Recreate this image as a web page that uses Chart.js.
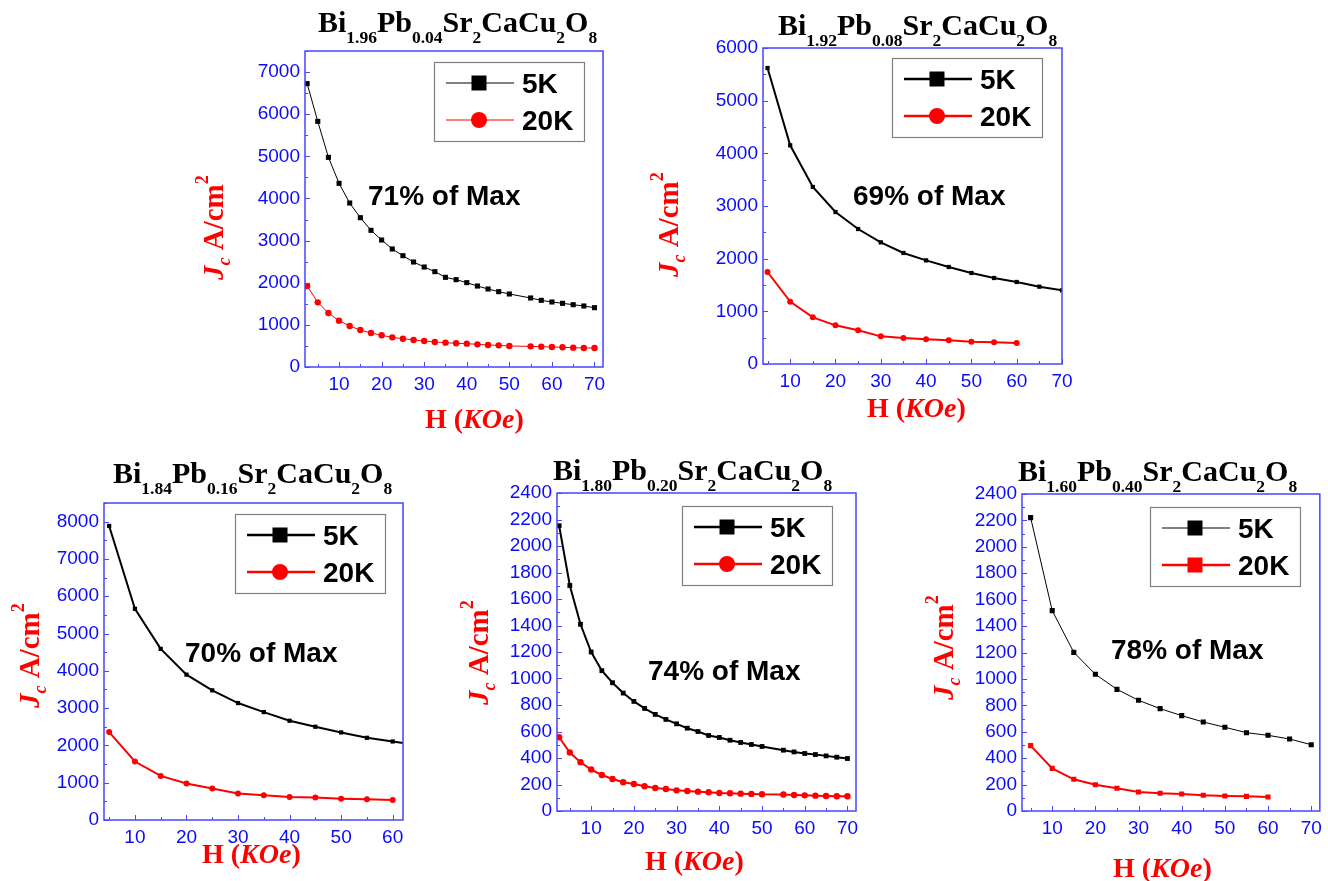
<!DOCTYPE html><html lang="en"><meta charset="utf-8">
<title>Jc vs H for Bi(2-x)Pb(x)Sr2CaCu2O8</title>
<script src="https://cdn.jsdelivr.net/npm/chart.js@4.4.1"></script>
<style>
body{margin:0;background:#fff;width:1328px;height:881px;overflow:hidden;position:relative}
canvas{position:absolute}
</style>
<body>
<canvas id="c1"></canvas>
<canvas id="c2"></canvas>
<canvas id="c3"></canvas>
<canvas id="c4"></canvas>
<canvas id="c5"></canvas>

<script>
// ---- data (H in KOe, Jc in A/cm^2) ----
const H_FINE  = [2.5,5,7.5,10,12.5,15,17.5,20,22.5,25,27.5,30,32.5,35,37.5,40,42.5,45,47.5,50,55,57.5,60,62.5,65,67.5,70];
const H_TO_70 = [5,10,15,20,25,30,35,40,45,50,55,60,65,70];
const H_TO_65 = [5,10,15,20,25,30,35,40,45,50,55,60,65];
const H_TO_60 = [5,10,15,20,25,30,35,40,45,50,55,60];

// Bi1.96Pb0.04
const jc004_5K  = [6725,5830,4976,4359,3892,3544,3244,3014,2801,2642,2492,2373,2263,2128,2073,2002,1922,1851,1788,1733,1638,1582,1543,1511,1479,1448,1408];
const jc004_20K = [1922,1535,1282,1100,973,878,807,752,704,672,641,617,593,578,562,554,538,522,514,498,490,483,475,467,459,451,451];
// Bi1.92Pb0.08
const jc008_5K  = [5620,4152,3361,2886,2563,2310,2108,1968,1842,1728,1633,1557,1468,1399];
const jc008_20K = [1747,1184,886,734,639,525,494,468,449,424,411,399];
// Bi1.84Pb0.16
const jc016_5K  = [7885,5663,4588,3898,3477,3136,2894,2661,2500,2348,2204,2106,2000];
const jc016_20K = [2357,1568,1183,977,842,708,663,618,600,573,556,538];
// Bi1.80Pb0.20
const jc020_5K  = [2153,1702,1409,1200,1059,968,890,827,774,729,691,658,625,600,570,555,534,517,502,487,459,446,434,426,416,406,396];
const jc020_20K = [557,441,368,313,272,242,217,204,187,174,166,156,151,146,141,136,134,131,129,126,124,121,118,116,113,111,111];
// Bi1.60Pb0.40
const jc040_5K  = [2221,1517,1201,1035,921,838,775,722,674,634,593,573,545,502];
const jc040_20K = [495,323,240,199,172,144,134,129,119,114,111,106];

const BI  = ['1.96','1.92','1.84','1.80','1.60'];
const PB  = ['0.04','0.08','0.16','0.20','0.40'];
const PCT = ['71% of Max','69% of Max','70% of Max','74% of Max','78% of Max'];

const X_TICKS_70 = [10,20,30,40,50,60,70];
const X_TICKS_60 = [10,20,30,40,50,60];
const Y_TICKS_7000 = [0,1000,2000,3000,4000,5000,6000,7000];
const Y_TICKS_6000 = [0,1000,2000,3000,4000,5000,6000];
const Y_TICKS_8000 = [0,1000,2000,3000,4000,5000,6000,7000,8000];
const Y_TICKS_2400 = [0,200,400,600,800,1000,1200,1400,1600,1800,2000,2200,2400];

// ---- look ----
const SERIF = '"Liberation Serif","Times New Roman",serif';
const SANS  = '"Liberation Sans",Arial,sans-serif';
const BLUE  = '#0a0aff';
const FRAME = '#4646ff';
const RED   = '#ff0000';

/* panel layout: canvas rect, plot box (page px), text anchors (page px) */
const panels = [
  {id:'c1', cx:180, cy:0, cw:460, ch:440, box:{l:305,t:51,r:603,b:367},
   xMin:2, xMax:72, yMax:7500, xTicks:X_TICKS_70, yTicks:Y_TICKS_7000, yMinor:500,
   title:[318,32], ylab:[223,280], xlab:[425,428], note:[368,205], leg:[434,62],
   series:[{label:'5K', h:H_FINE, jc:jc004_5K, color:'#000', lw:1, marker:'rect', r:3.6, legLw:1},
           {label:'20K', h:H_FINE, jc:jc004_20K, color:RED, lw:1, marker:'circle', r:3.2, legLw:1}]},
  {id:'c2', cx:630, cy:0, cw:460, ch:440, box:{l:763,t:48,r:1062,b:364},
   xMin:4, xMax:70, yMax:6000, xTicks:X_TICKS_70, yTicks:Y_TICKS_6000, yMinor:500,
   title:[778,35], ylab:[678,277], xlab:[867,417], note:[853,205], leg:[892,58],
   series:[{label:'5K', h:H_TO_70, jc:jc008_5K, color:'#000', lw:2, marker:'rect', r:3, legLw:2.5},
           {label:'20K', h:H_TO_60, jc:jc008_20K, color:RED, lw:2, marker:'circle', r:3, legLw:2.5}]},
  {id:'c3', cx:0, cy:440, cw:440, ch:441, box:{l:104,t:503,r:403,b:820},
   xMin:4, xMax:62, yMax:8500, xTicks:X_TICKS_60, yTicks:Y_TICKS_8000, yMinor:500,
   title:[113,483], ylab:[39,708], xlab:[202,863], note:[185,662], leg:[235,514],
   series:[{label:'5K', h:H_TO_65, jc:jc016_5K, color:'#000', lw:2, marker:'rect', r:3, legLw:2.5},
           {label:'20K', h:H_TO_60, jc:jc016_20K, color:RED, lw:2, marker:'circle', r:3, legLw:2.5}]},
  {id:'c4', cx:440, cy:440, cw:440, ch:441, box:{l:557,t:493,r:856,b:811},
   xMin:2, xMax:72, yMax:2400, xTicks:X_TICKS_70, yTicks:Y_TICKS_2400, yMinor:100,
   title:[553,480], ylab:[488,705], xlab:[645,870], note:[648,680], leg:[682,506],
   series:[{label:'5K', h:H_FINE, jc:jc020_5K, color:'#000', lw:2, marker:'rect', r:3.4, legLw:2.5},
           {label:'20K', h:H_FINE, jc:jc020_20K, color:RED, lw:2, marker:'circle', r:3.2, legLw:2.5}]},
  {id:'c5', cx:880, cy:440, cw:448, ch:441, box:{l:1022,t:494,r:1320,b:811},
   xMin:3, xMax:72, yMax:2400, xTicks:X_TICKS_70, yTicks:Y_TICKS_2400, yMinor:100,
   title:[1018,481], ylab:[953,700], xlab:[1113,877], note:[1111,659], leg:[1150,507],
   series:[{label:'5K', h:H_TO_70, jc:jc040_5K, color:'#000', lw:1, marker:'rect', r:3.6, legLw:1},
           {label:'20K', h:H_TO_60, jc:jc040_20K, color:RED, lw:2, marker:'rect', r:3.6, legLw:2.5}]}
];

// draw a run of differently styled text pieces side by side
function rich(ctx, parts, x, y){
  for(const [t,font,dy] of parts){
    ctx.font = font;
    ctx.fillText(t, x, y+(dy||0));
    x += ctx.measureText(t).width;
  }
}

function formula(i){
  const M=`bold 30px ${SERIF}`, S=`bold 17.5px ${SERIF}`, d=11;
  return [['Bi',M],[BI[i],S,d],['Pb',M],[PB[i],S,d],['Sr',M],['2',S,d],['CaCu',M],['2',S,d],['O',M],['8',S,d]];
}
const Y_LABEL = [['J',`italic bold 29px ${SERIF}`],['c',`italic bold 18px ${SERIF}`,7],
                 [' A/cm',`bold 29px ${SERIF}`],['2',`bold 18px ${SERIF}`,-15]];
const X_LABEL = [['H (',`bold 28px ${SERIF}`],['KOe',`italic bold 28px ${SERIF}`],[')',`bold 28px ${SERIF}`]];

function extras(p, idx){
  return {
    id:'extras'+idx,
    afterDraw(chart){
      const ctx = chart.ctx, a = chart.chartArea, xs = chart.scales.x, ys = chart.scales.y;
      const ox = p.cx, oy = p.cy;
      ctx.save();
      // frame
      ctx.strokeStyle = FRAME; ctx.lineWidth = 1.5;
      ctx.strokeRect(a.left, a.top, a.right-a.left, a.bottom-a.top);
      // inward ticks
      ctx.lineWidth = 1;
      ctx.beginPath();
      for(let v=0; v<=p.yMax; v+=p.yMinor){
        const y = Math.round(ys.getPixelForValue(v))+0.5;
        const len = p.yTicks.includes(v) ? 5 : 3;
        ctx.moveTo(a.left, y); ctx.lineTo(a.left+len, y);
      }
      for(let v=5; v<=p.xMax; v+=5){
        if(v < p.xMin) continue;
        const x = Math.round(xs.getPixelForValue(v))+0.5;
        const len = p.xTicks.includes(v) ? 5 : 3;
        ctx.moveTo(x, a.bottom); ctx.lineTo(x, a.bottom-len);
      }
      ctx.stroke();

      // legend
      const lx = p.leg[0]-ox, ly = p.leg[1]-oy;
      ctx.fillStyle = '#fff'; ctx.fillRect(lx, ly, 150, 79);
      ctx.strokeStyle = '#808080'; ctx.lineWidth = 1.2;
      ctx.strokeRect(lx+0.5, ly+0.5, 150, 79);
      p.series.forEach((s, k)=>{
        const ry = ly + 21 + k*37;
        ctx.strokeStyle = s.color; ctx.lineWidth = s.legLw;
        ctx.beginPath(); ctx.moveTo(lx+12, ry); ctx.lineTo(lx+80, ry); ctx.stroke();
        ctx.fillStyle = s.color;
        if(s.marker === 'rect') ctx.fillRect(lx+45-7.5, ry-7.5, 15, 15);
        else { ctx.beginPath(); ctx.arc(lx+45, ry, 8, 0, Math.PI*2); ctx.fill(); }
        ctx.fillStyle = '#000'; ctx.font = `bold 28px ${SANS}`; ctx.textBaseline = 'alphabetic';
        ctx.fillText(s.label, lx+88, ry+10);
      });

      // texts
      ctx.textAlign = 'left'; ctx.textBaseline = 'alphabetic';
      ctx.fillStyle = '#000';
      rich(ctx, formula(idx), p.title[0]-ox, p.title[1]-oy);
      ctx.font = `bold 28px ${SANS}`;
      ctx.fillText(PCT[idx], p.note[0]-ox, p.note[1]-oy);
      ctx.fillStyle = RED;
      rich(ctx, X_LABEL, p.xlab[0]-ox, p.xlab[1]-oy);
      ctx.translate(p.ylab[0]-ox, p.ylab[1]-oy);
      ctx.rotate(-Math.PI/2);
      rich(ctx, Y_LABEL, 0, 0);
      ctx.restore();
    }
  };
}

const YW = 70, XH = 30;
panels.forEach((p, idx)=>{
  const cv = document.getElementById(p.id);
  cv.width = p.cw; cv.height = p.ch;
  cv.style.left = p.cx+'px'; cv.style.top = p.cy+'px';
  const tickFont = {family:SANS, size:19};
  new Chart(cv.getContext('2d'), {
    type:'line',
    data:{datasets:p.series.map(s=>({
      label:s.label,
      data:s.h.map((h,i)=>({x:h, y:s.jc[i]})),
      borderColor:s.color, backgroundColor:s.color,
      borderWidth:s.lw, tension:0,
      pointStyle:s.marker, pointRadius:s.r, pointBorderWidth:0, pointHoverRadius:s.r
    }))},
    options:{
      responsive:false, animation:false, events:[],
      layout:{padding:{left:p.box.l-p.cx-YW, top:p.box.t-p.cy, right:p.cx+p.cw-p.box.r, bottom:p.cy+p.ch-p.box.b-XH}},
      plugins:{legend:{display:false}, tooltip:{enabled:false}},
      scales:{
        x:{type:'linear', min:p.xMin, max:p.xMax,
           grid:{display:false, drawTicks:false}, border:{display:false},
           ticks:{color:BLUE, font:tickFont, padding:6, autoSkip:false, maxRotation:0, callback:v=>String(v)},
           afterBuildTicks:s=>{ s.ticks = p.xTicks.map(v=>({value:v})); },
           afterFit:s=>{ s.height = XH; }},
        y:{type:'linear', min:0, max:p.yMax,
           grid:{display:false, drawTicks:false}, border:{display:false},
           ticks:{color:BLUE, font:tickFont, padding:5, autoSkip:false, callback:v=>String(v)},
           afterBuildTicks:s=>{ s.ticks = p.yTicks.map(v=>({value:v})); },
           afterFit:s=>{ s.width = YW; }}
      }
    },
    plugins:[extras(p, idx)]
  });
});
</script>
</body></html>
